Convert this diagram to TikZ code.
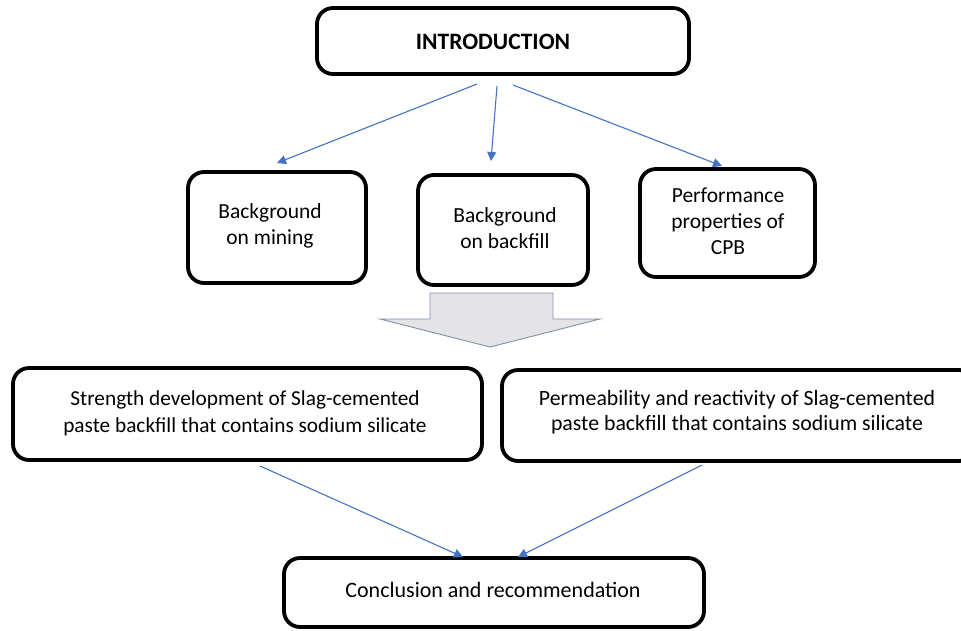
\documentclass[tikz,border=0pt]{standalone}
\usepackage{fontspec}
\setmainfont{Carlito}
\usetikzlibrary{arrows.meta}
\definecolor{conn}{HTML}{4472C4}
\definecolor{bafill}{HTML}{E4E4E6}
\definecolor{badraw}{HTML}{7F8FA9}
\tikzset{
  rbox/.style={draw=black, line width=3.8pt, rounded corners=16pt},
  lbl/.style={align=center, font=\fontsize{21.5}{26}\selectfont, inner sep=0pt},
  conn/.style={draw=conn, line width=1.1pt, -{Triangle[length=9pt,width=9pt]}}
}
\begin{document}
\begin{tikzpicture}[x=1pt,y=-1pt]
\useasboundingbox (0,0) rectangle (961,630);
% boxes
\draw[rbox] (317,8) rectangle (689,74);
\node[lbl, font=\bfseries\fontsize{23.5}{24}\selectfont] (intro) at (493,42) {INTRODUCTION};
\draw[rbox] (188,172) rectangle (366,283);
\node[lbl] (mining) at (270,226) {Background\\on mining};
\draw[rbox] (418,175) rectangle (588,285);
\node[lbl] (backfill) at (505,228) {Background\\on backfill};
\draw[rbox] (640,169) rectangle (815,277);
\node[lbl] (perf) at (728,221) {Performance\\properties of\\CPB};
% connectors
\coordinate (s1) at (477,84);
\coordinate (s2) at (497,86);
\coordinate (s3) at (513,85);
\coordinate (e1) at (277,163);
\coordinate (e2) at (491,161);
\coordinate (e3) at (722,166);
\draw[conn] (s1) -- (e1);
\draw[conn] (s2) -- (e2);
\draw[conn] (s3) -- (e3);
% block arrow
\draw[fill=bafill, draw=badraw, line width=0.9pt]
  (430,293) -- (553,293) -- (553,319) -- (600,319) -- (490,347) -- (380,319) -- (430,319) -- cycle;
% second row
\draw[rbox] (13,368) rectangle (482,460);
\node[lbl, font=\fontsize{21.3}{27}\selectfont] (strength) at (245,413) {Strength development of Slag-cemented\\paste backfill that contains sodium silicate};
\draw[rbox] (502,370) rectangle (975,461);
\node[lbl, font=\fontsize{21.8}{25}\selectfont] (perm) at (737,412) {Permeability and reactivity of Slag-cemented\\paste backfill that contains sodium silicate};
\draw[rbox] (284,558) rectangle (704,627);
\node[lbl, font=\fontsize{22}{22}\selectfont] (concl) at (493,590) {Conclusion and recommendation};
\coordinate (c1) at (260,466);
\coordinate (c2) at (702,465);
\coordinate (d1) at (463,557);
\coordinate (d2) at (518,557);
\draw[conn] (c1) -- (d1);
\draw[conn] (c2) -- (d2);
\end{tikzpicture}
\end{document}
